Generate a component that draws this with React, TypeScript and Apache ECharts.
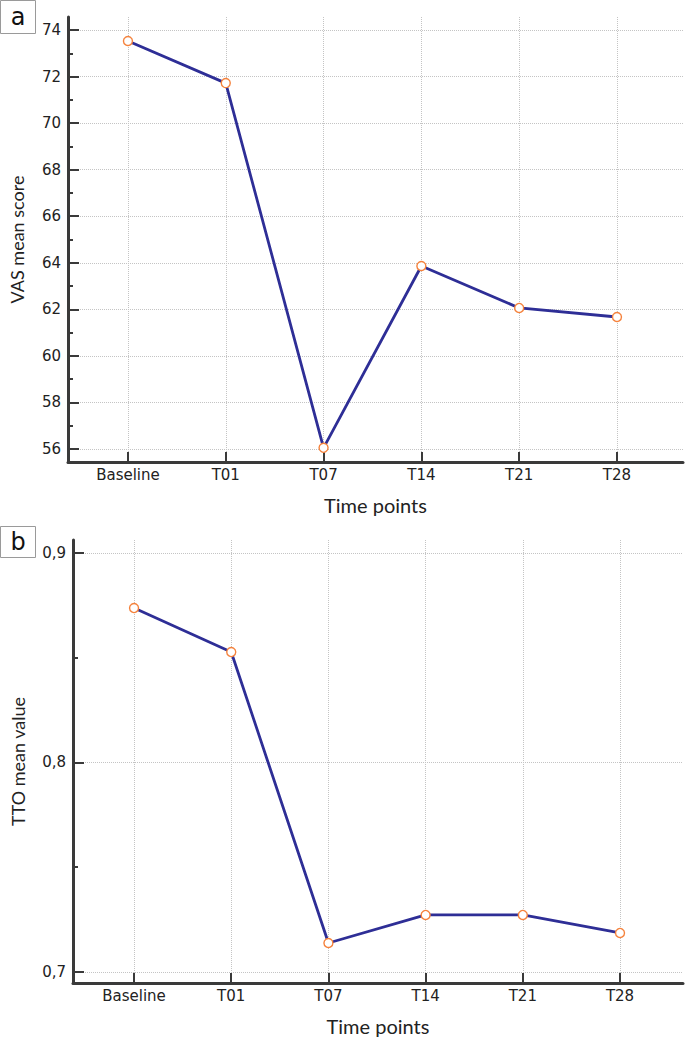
import React, { useEffect, useRef } from "react";
import * as echarts from "echarts";

const categories = ["Baseline", "T01", "T07", "T14", "T21", "T28"];
const vasValues = [73.53, 71.72, 56.05, 63.86, 62.06, 61.67];
const ttoValues = [0.8737, 0.8527, 0.7138, 0.7272, 0.7272, 0.7186];
const vasMajorTicks = [56, 58, 60, 62, 64, 66, 68, 70, 72, 74];
const vasMinorTicks = [57, 59, 61, 63, 65, 67, 69, 71, 73];
const ttoMajorTicks = [0.7, 0.8, 0.9];
const ttoMinorTicks = [0.75, 0.85];
const catIndex = [0, 1, 2, 3, 4, 5];

const AXIS_COLOR = "#3a3a3a";
const GRID_COLOR = "#c4c4c4";
const LINE_COLOR = "#2e2e96";
const MARK_COLOR = "#f5823c";
const TICK_FONT = "'DejaVu Sans', sans-serif";
const NAME_FONT = "Lato, 'Open Sans', sans-serif";

export default function App() {
  const ref = useRef<HTMLDivElement>(null);
  useEffect(() => {
    document.body.style.margin = "0";
    const chart = echarts.init(ref.current!, null, { renderer: "svg" });
    const splitLine = { show: true, lineStyle: { color: GRID_COLOR, type: "dotted", width: 1 } };
    const xAxisBase = (gridIndex: number, min: number, max: number) => ({
      type: "value",
      gridIndex,
      min,
      max,
      position: "bottom",
      name: "Time points",
      nameLocation: "middle",
      nameGap: 33,
      nameTextStyle: { fontFamily: NAME_FONT, fontSize: 20, color: "#222" },
      axisLine: { show: true, onZero: false, lineStyle: { color: AXIS_COLOR, width: 3 } },
      axisTick: { show: true, inside: true, length: 10, customValues: catIndex, lineStyle: { color: AXIS_COLOR, width: 2 } },
      axisLabel: {
        show: true,
        customValues: catIndex,
        margin: 5,
        fontFamily: TICK_FONT,
        fontSize: 15,
        color: "#222",
        formatter: (v: number) => categories[Math.round(v)] ?? "",
      },
      splitLine,
    });
    const yMain = (gridIndex: number, min: number, max: number, ticks: number[], name: string, gap: number, fmt: (v: number) => string) => ({
      type: "value",
      gridIndex,
      min,
      max,
      position: "left",
      name,
      nameLocation: "middle",
      nameGap: gap,
      nameTextStyle: { fontFamily: NAME_FONT, fontSize: 18, color: "#222" },
      axisLine: { show: true, onZero: false, lineStyle: { color: AXIS_COLOR, width: 3 } },
      axisTick: { show: true, inside: true, length: 11, customValues: ticks, lineStyle: { color: AXIS_COLOR, width: 2 } },
      axisLabel: { show: true, customValues: ticks, margin: 7, fontFamily: TICK_FONT, fontSize: 15, color: "#222", formatter: fmt },
      splitLine,
    });
    const yMinor = (gridIndex: number, min: number, max: number, ticks: number[]) => ({
      type: "value",
      gridIndex,
      min,
      max,
      position: "left",
      offset: 0,
      axisLine: { show: false, onZero: false },
      axisTick: { show: true, inside: true, length: 5, customValues: ticks, lineStyle: { color: AXIS_COLOR, width: 2 } },
      axisLabel: { show: false },
      splitLine: { show: false },
    });
    const series = (xi: number, yi: number, vals: number[]) => ({
      type: "line",
      xAxisIndex: xi,
      yAxisIndex: yi,
      data: vals.map((v, i) => [catIndex[i], v]),
      symbol: "circle",
      symbolSize: 9,
      showSymbol: true,
      lineStyle: { color: LINE_COLOR, width: 2.8 },
      itemStyle: { color: "#ffffff", borderColor: MARK_COLOR, borderWidth: 1.4 },
      z: 5,
    });
    chart.setOption({
      animation: false,
      grid: [
        { left: 68, right: 2, top: 17, height: 445 },
        { left: 73, right: 2, top: 540, height: 443 },
      ],
      xAxis: [xAxisBase(0, -0.613, 5.675), xAxisBase(1, -0.628, 5.648)],
      yAxis: [
        yMain(0, 55.44, 74.56, vasMajorTicks, "VAS mean score", 42, (v: number) => String(Math.round(v))),
        yMinor(0, 55.44, 74.56, vasMinorTicks),
        yMain(1, 0.6947, 0.9062, ttoMajorTicks, "TTO mean value", 46, (v: number) => v.toFixed(1).replace(".", ",")),
        yMinor(1, 0.6947, 0.9062, ttoMinorTicks),
      ],
      series: [series(0, 0, vasValues), series(1, 2, ttoValues)],
      graphic: [
        { type: "rect", shape: { x: 0.5, y: 0.5, width: 35, height: 33 }, style: { fill: "#fff", stroke: "#9a9a9a", lineWidth: 1 } },
        { type: "text", x: 18, y: 17, style: { text: "a", fontFamily: TICK_FONT, fontSize: 24, fill: "#111", align: "center", verticalAlign: "middle" } },
        { type: "rect", shape: { x: 0.5, y: 526.5, width: 35, height: 31 }, style: { fill: "#fff", stroke: "#9a9a9a", lineWidth: 1 } },
        { type: "text", x: 18, y: 542, style: { text: "b", fontFamily: TICK_FONT, fontSize: 24, fill: "#111", align: "center", verticalAlign: "middle" } },
      ],
    });
    return () => chart.dispose();
  }, []);
  return <div ref={ref} style={{ width: 685, height: 1038 }} />;
}
